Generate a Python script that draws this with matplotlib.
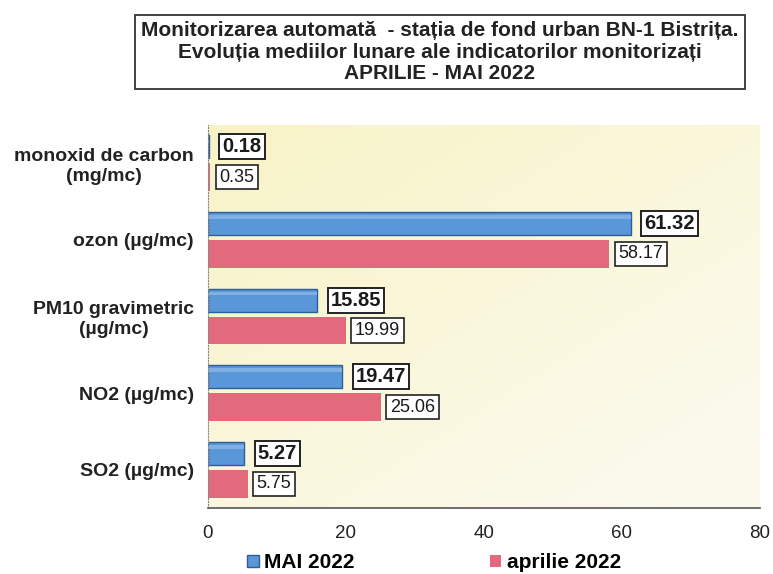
import numpy as np
import matplotlib
matplotlib.use("Agg")
import matplotlib.pyplot as plt
from matplotlib.patches import Patch

categories = [
    "monoxid de carbon\n(mg/mc)",
    "ozon (µg/mc)",
    "PM10 gravimetric\n(µg/mc)",
    "NO2 (µg/mc)",
    "SO2 (µg/mc)",
]
mai_2022 = [0.18, 61.32, 15.85, 19.47, 5.27]
aprilie_2022 = [0.35, 58.17, 19.99, 25.06, 5.75]
xticks = [0, 20, 40, 60, 80]

BLUE = "#5A97D8"
PINK = "#E36A7D"

plt.rcParams["font.family"] = ["Liberation Sans", "DejaVu Sans"]

fig = plt.figure(figsize=(7.73, 5.74), dpi=100)
ax = fig.add_axes([208 / 773, 1 - 508 / 574, 552 / 773, 383 / 574])

# pale yellow background, stronger towards upper left
gx, gy = np.meshgrid(np.linspace(0, 1, 200), np.linspace(0, 1, 200))
grad = np.clip(0.55 * gx + 0.6 * gy, 0, 1)
cmap = matplotlib.colors.LinearSegmentedColormap.from_list("bg", ["#F8F3C6", "#FBFAEC"])
ax.imshow(grad, extent=[0, 80, 4.5, -0.5], aspect="auto", cmap=cmap, zorder=0, origin="upper")

y = np.arange(len(categories))
hb, hp = 0.30, 0.365
yb = y - 0.215
yp = y + 0.183
ax.barh(yb, mai_2022, height=hb, color=BLUE, edgecolor="#2E5E96", linewidth=1.0, zorder=2)
ax.barh(yp, aprilie_2022, height=hp, color=PINK, edgecolor="none", zorder=2)
# light bevel highlight on the blue bars
ax.barh(yb - hb * 0.28, mai_2022, height=hb * 0.15, color="#7FB0E4", edgecolor="none", zorder=2.5)

for yi, v in zip(yb, mai_2022):
    ax.annotate(f"{v:.2f}", xy=(v, yi), xytext=(9.5, 0), textcoords="offset points",
                ha="left", va="center", fontsize=14.5, fontweight="bold", color="#1a1a1a", zorder=3,
                bbox=dict(boxstyle="square,pad=0.15", fc="white", ec="#222222", lw=1.4))
for yi, v in zip(yp, aprilie_2022):
    ax.annotate(f"{v:.2f}", xy=(v, yi), xytext=(6.5, 0), textcoords="offset points",
                ha="left", va="center", fontsize=13, color="#1a1a1a", zorder=3,
                bbox=dict(boxstyle="square,pad=0.2", fc="white", ec="#222222", lw=1.2))

ax.set_xlim(0, 80)
ax.set_ylim(4.5, -0.5)
ax.set_xticks(xticks)
ax.set_xticklabels([str(t) for t in xticks], fontsize=13.5, color="#222222")
ax.set_yticks(y)
ax.set_yticklabels(categories, fontsize=14, fontweight="bold", color="#222222",
                   ha="right", multialignment="center")
ax.tick_params(axis="y", length=0, pad=10)
ax.tick_params(axis="x", length=0, pad=12)

for s in ["top", "right"]:
    ax.spines[s].set_visible(False)
ax.spines["left"].set_color("#888888")
ax.spines["left"].set_linestyle(":")
ax.spines["bottom"].set_color("#555555")
ax.spines["bottom"].set_linewidth(1.2)

# title box
fig.text(440 / 773, 1 - 52 / 574,
         "Monitorizarea automată  - stația de fond urban BN-1 Bistrița.\n"
         "Evoluția mediilor lunare ale indicatorilor monitorizați\nAPRILIE - MAI 2022",
         ha="center", va="center", fontsize=15, fontweight="bold", color="#222222", linespacing=1.18,
         bbox=dict(boxstyle="square,pad=0.3", fc="white", ec="#333333", lw=1.3))

# legend
handles = [
    Patch(facecolor=BLUE, edgecolor="#2E5E96", label="MAI 2022"),
    Patch(facecolor=PINK, edgecolor="none", label="aprilie 2022"),
]
fig.legend(handles=handles, loc="center", bbox_to_anchor=(434 / 773, 1 - 563 / 574), ncol=2,
           frameon=False, handlelength=0.55, handleheight=0.55, handletextpad=0.25, columnspacing=6.5,
           prop={"weight": "bold", "size": 15})

fig.savefig("out.png", dpi=100)
